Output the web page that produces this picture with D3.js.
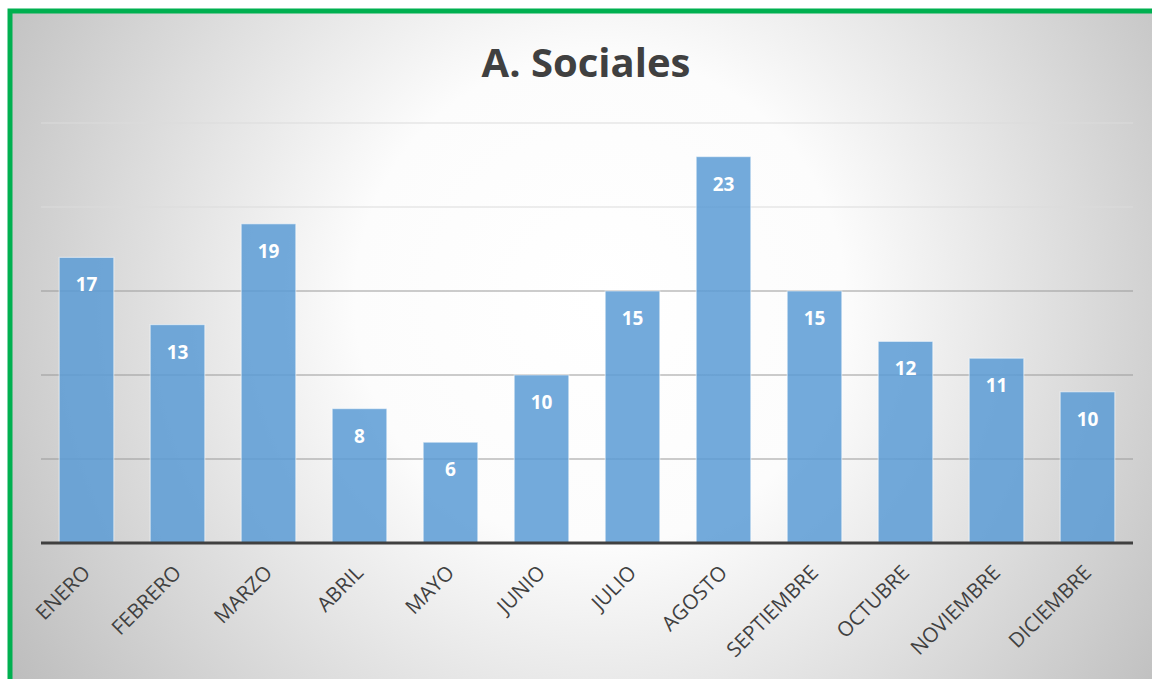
<!DOCTYPE html>
<html><head><meta charset="utf-8">
<script src="https://cdn.jsdelivr.net/npm/d3@7"></script>
<style>html,body{margin:0;padding:0;overflow:hidden;background:#fff}</style>
</head><body>
<svg id="chart" width="1152" height="679"></svg>
<script>
const months = ["ENERO","FEBRERO","MARZO","ABRIL","MAYO","JUNIO","JULIO","AGOSTO","SEPTIEMBRE","OCTUBRE","NOVIEMBRE","DICIEMBRE"];
const values = [17,13,19,8,6,10,15,23,15,12,11,9];
const valueLabels = ["17","13","19","8","6","10","15","23","15","12","11","10"];
const yTicks = [0,5,10,15,20,25];
const title = "A. Sociales";

const svg = d3.select("#chart");
const W = 1152, H = 679;
const defs = svg.append("defs");
const rg = defs.append("radialGradient").attr("id","bg")
  .attr("gradientUnits","userSpaceOnUse").attr("cx",600).attr("cy",300).attr("r",700);
rg.append("stop").attr("offset","0").attr("stop-color","#ffffff");
rg.append("stop").attr("offset","0.35").attr("stop-color","#fcfcfc");
rg.append("stop").attr("offset","1").attr("stop-color","#bdbdbd");

svg.append("rect").attr("x",0).attr("y",0).attr("width",W).attr("height",H).attr("fill","#ffffff");
svg.append("rect").attr("x",10).attr("y",11).attr("width",W+20).attr("height",H+20)
  .attr("fill","url(#bg)").attr("stroke","#00b050").attr("stroke-width",5);

const x = d3.scaleBand().domain(months).range([41,1133]).paddingInner(0.4).paddingOuter(0.2);
const y = d3.scaleLinear().domain([0,25]).range([543,123]);

const grid = svg.append("g");
grid.selectAll("line").data(yTicks.filter(t=>t>0)).join("line")
  .attr("x1",41).attr("x2",1133).attr("y1",d=>y(d)).attr("y2",d=>y(d))
  .attr("stroke",d=>d>=20?"#dcdcdc":"#9a9a9a").attr("stroke-width",1.2);

svg.append("g").selectAll("rect").data(values).join("rect")
  .attr("x",(d,i)=>x(months[i])).attr("width",x.bandwidth())
  .attr("y",d=>y(d)).attr("height",d=>y(0)-y(d))
  .attr("fill","#5b9bd5").attr("fill-opacity",0.85)
  .attr("stroke","#ffffff").attr("stroke-opacity",0.5).attr("stroke-width",1.2);

svg.append("g").selectAll("text").data(values).join("text")
  .attr("x",(d,i)=>x(months[i])+x.bandwidth()/2).attr("y",d=>y(d)+34)
  .attr("text-anchor","middle").attr("fill","#ffffff")
  .attr("font-family","'Open Sans', sans-serif").attr("font-weight","bold").attr("font-size",19)
  .text((d,i)=>valueLabels[i]);

svg.append("line").attr("x1",41).attr("x2",1133).attr("y1",y(0)).attr("y2",y(0))
  .attr("stroke","#404040").attr("stroke-width",3);

const xAxis = d3.axisBottom(x).tickSize(0).tickPadding(0);
const ax = svg.append("g").attr("transform",`translate(0,${y(0)})`).call(xAxis);
ax.select(".domain").remove();
ax.selectAll("text")
  .attr("font-family","'Open Sans', sans-serif").attr("font-size",20.5).attr("fill","#404040")
  .attr("text-anchor","end").attr("dy",0).attr("y",0)
  .attr("transform","translate(5,31) rotate(-45)");

svg.append("text").attr("x",586).attr("y",77).attr("text-anchor","middle")
  .attr("font-family","'Open Sans', sans-serif").attr("font-weight","bold").attr("font-size",40)
  .attr("fill","#404040").text(title);
</script>
</body></html>
